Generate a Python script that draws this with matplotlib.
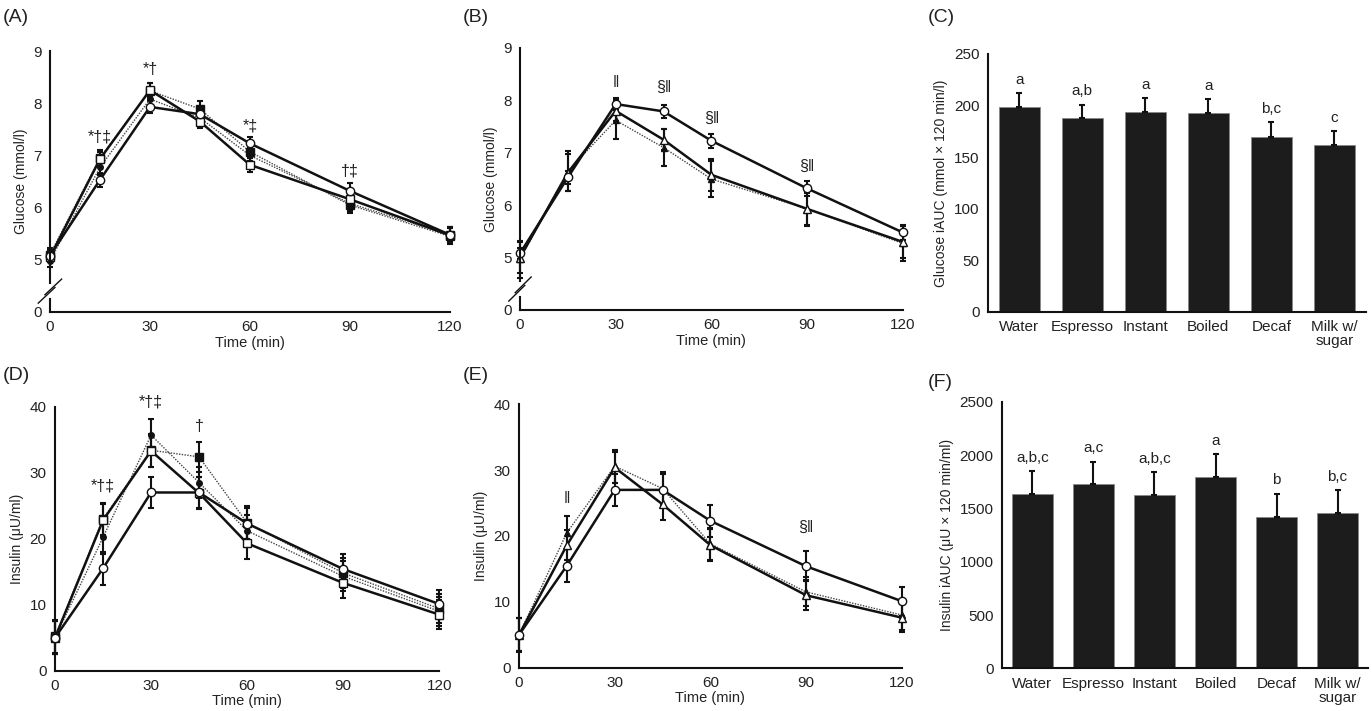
import numpy as np
import matplotlib.pyplot as plt

plt.rcParams['font.family'] = ['Liberation Sans', 'DejaVu Sans']

# time points (min)
times = [0, 15, 30, 45, 60, 90, 120]

# (A) glucose, water vs caffeinated coffees
glu_water = [5.08, 6.53, 7.93, 7.79, 7.23, 6.32, 5.48]
glu_water_err = [0.10, 0.13, 0.12, 0.12, 0.13, 0.15, 0.14]
glu_open_sq = [5.05, 6.93, 8.25, 7.65, 6.82, 6.16, 5.47]
glu_open_sq_err = [0.10, 0.13, 0.13, 0.12, 0.13, 0.13, 0.15]
glu_fill_sq = [5.10, 6.95, 8.24, 7.89, 7.07, 6.05, 5.45]
glu_fill_sq_err = [0.12, 0.15, 0.15, 0.15, 0.17, 0.15, 0.15]
glu_fill_ci = [4.98, 6.77, 8.08, 7.72, 7.00, 6.08, 5.48]
glu_fill_ci_err = [0.12, 0.14, 0.14, 0.14, 0.15, 0.14, 0.14]

# (B) glucose, water vs decaf vs milk w/ sugar
glu_decaf = [5.00, 6.62, 7.80, 7.25, 6.58, 5.93, 5.30]
glu_decaf_err = [0.30, 0.35, 0.20, 0.20, 0.30, 0.30, 0.30]
glu_milk = [4.97, 6.65, 7.62, 7.10, 6.50, 5.93, 5.27]
glu_milk_err = [0.35, 0.38, 0.35, 0.35, 0.35, 0.32, 0.33]

# (D) insulin, water vs caffeinated coffees
ins_water = [5.0, 15.5, 27.0, 27.0, 22.3, 15.4, 10.1]
ins_water_err = [2.5, 2.5, 2.4, 2.4, 2.4, 2.3, 2.2]
ins_open_sq = [5.0, 22.8, 33.3, 26.9, 19.3, 13.3, 8.5]
ins_open_sq_err = [2.5, 2.5, 2.4, 2.4, 2.4, 2.3, 2.2]
ins_fill_sq = [5.2, 23.0, 33.4, 32.4, 22.4, 14.8, 9.4]
ins_fill_sq_err = [2.5, 2.4, 2.5, 2.3, 2.5, 2.3, 2.2]
ins_fill_ci = [5.0, 20.2, 35.7, 28.5, 21.2, 14.3, 9.0]
ins_fill_ci_err = [2.5, 2.5, 2.4, 2.4, 2.4, 2.3, 2.2]

# (E) insulin, water vs decaf vs milk w/ sugar
ins_decaf = [5.0, 18.6, 30.4, 24.8, 18.6, 11.0, 7.6]
ins_decaf_err = [2.5, 2.3, 2.4, 2.4, 2.4, 2.3, 2.2]
ins_milk = [5.0, 20.5, 30.6, 27.2, 18.8, 11.5, 8.0]
ins_milk_err = [2.6, 2.5, 2.5, 2.5, 2.4, 2.2, 2.2]

# (C), (F) iAUC bars
drinks = ['Water', 'Espresso', 'Instant', 'Boiled', 'Decaf', 'Milk w/\nsugar']
glu_auc = [199, 188, 194, 193, 170, 162]
glu_auc_err = [13, 13, 13, 13, 14, 13]
glu_auc_letters = ['a', 'a,b', 'a', 'a', 'b,c', 'c']
ins_auc = [1637, 1728, 1628, 1794, 1422, 1456]
ins_auc_err = [210, 209, 213, 213, 215, 213]
ins_auc_letters = ['a,b,c', 'a,c', 'a,b,c', 'a', 'b', 'b,c']

TXT = '#222222'
SOLID = dict(color='#111111', lw=1.8, ls='-')
DOTTED = dict(color='#444444', lw=1.0, ls=(0, (1, 1)))


def style_axes(ax):
    for s in ['top', 'right']:
        ax.spines[s].set_visible(False)
    for s in ['left', 'bottom']:
        ax.spines[s].set_linewidth(1.5)
        ax.spines[s].set_color('#111111')
    ax.tick_params(length=0, labelsize=11, colors=TXT, pad=6)


def draw_series(ax, y, err, marker, mfc, ms, line):
    eb = ax.errorbar(times, y, yerr=err, fmt='none', ecolor='#111111',
                     elinewidth=1.5, capsize=2.2, capthick=1.5, zorder=2)
    for art in eb.get_children():
        art.set_clip_on(False)
    ax.plot(times, y, marker=marker, markerfacecolor=mfc, markeredgecolor='#111111',
            markeredgewidth=1.0, markersize=ms, zorder=3, clip_on=False, **line)


def line_axes(ax, ylabel):
    style_axes(ax)
    ax.set_xlim(0, 120)
    ax.set_xticks([0, 30, 60, 90, 120])
    ax.set_xlabel('Time (min)', fontsize=10.5, color=TXT, labelpad=1)
    ax.set_ylabel(ylabel, fontsize=10, color=TXT)


def broken_glucose_axis(ax):
    # glucose axes start at 5 with a break down to 0
    ax.set_ylim(4, 9)
    ax.set_yticks([4, 5, 6, 7, 8, 9])
    ax.set_yticklabels(['0', '5', '6', '7', '8', '9'])
    ax.spines['left'].set_visible(False)
    kw = dict(color='#111111', lw=1.5, clip_on=False, zorder=5)
    ax.plot([0, 0], [4.55, 9], **kw)
    ax.plot([0, 0], [4, 4.25], **kw)
    ax.plot([-3.5, 1.5], [4.17, 4.47], color='#111111', lw=1.0, clip_on=False)
    ax.plot([-1.5, 3.5], [4.33, 4.63], color='#111111', lw=1.0, clip_on=False)


def note(ax, x, y, s):
    ax.text(x, y, s, ha='center', va='bottom', fontsize=11.5, color=TXT)


def bar_axes(ax, vals, errs, letters, ylim, yticks, ylabel, gap):
    style_axes(ax)
    x = np.arange(len(drinks))
    ax.bar(x, vals, width=0.66, color='#1c1c1c', edgecolor='#888888', linewidth=0.6, zorder=2)
    ax.errorbar(x, vals, yerr=[np.zeros(len(errs)), errs], fmt='none', ecolor='#111111',
                elinewidth=1.5, capsize=2.2, capthick=1.5, zorder=3)
    for xi, v, e, t in zip(x, vals, errs, letters):
        ax.text(xi, v + e + gap, t, ha='center', va='bottom', fontsize=11, color=TXT)
    ax.set_xlim(-0.5, len(drinks) - 0.5)
    ax.set_ylim(*ylim)
    ax.set_yticks(yticks)
    ax.set_xticks(x)
    ax.set_xticklabels(drinks, fontsize=11, linespacing=1.0)
    ax.set_ylabel(ylabel, fontsize=10, color=TXT)


fig = plt.figure(figsize=(13.72, 7.11), dpi=100)

axA = fig.add_axes([0.0364, 0.5612, 0.2915, 0.367])
axB = fig.add_axes([0.379, 0.564, 0.279, 0.3685])
axC = fig.add_axes([0.720, 0.5612, 0.2755, 0.3629])
axD = fig.add_axes([0.0401, 0.0567, 0.280, 0.3713])
axE = fig.add_axes([0.3783, 0.0609, 0.279, 0.3705])
axF = fig.add_axes([0.7303, 0.060, 0.2668, 0.375])

# (A)
line_axes(axA, 'Glucose (mmol/l)')
broken_glucose_axis(axA)
draw_series(axA, glu_fill_ci, glu_fill_ci_err, 'o', '#111111', 4, DOTTED)
draw_series(axA, glu_fill_sq, glu_fill_sq_err, 's', '#111111', 6, DOTTED)
draw_series(axA, glu_open_sq, glu_open_sq_err, 's', 'white', 6, SOLID)
draw_series(axA, glu_water, glu_water_err, 'o', 'white', 6, SOLID)
note(axA, 15, 7.2, '*†‡')
note(axA, 30, 8.5, '*†')
note(axA, 60, 7.42, '*‡')
note(axA, 90, 6.55, '†‡')

# (B)
line_axes(axB, 'Glucose (mmol/l)')
broken_glucose_axis(axB)
draw_series(axB, glu_milk, glu_milk_err, '^', '#111111', 5, DOTTED)
draw_series(axB, glu_decaf, glu_decaf_err, '^', 'white', 6, SOLID)
draw_series(axB, glu_water, glu_water_err, 'o', 'white', 6, SOLID)
note(axB, 30, 8.2, '‖')
note(axB, 45, 8.1, '§‖')
note(axB, 60, 7.52, '§‖')
note(axB, 90, 6.6, '§‖')

# (C)
bar_axes(axC, glu_auc, glu_auc_err, glu_auc_letters, (0, 250),
         [0, 50, 100, 150, 200, 250], 'Glucose iAUC (mmol × 120 min/l)', 6)

# (D)
line_axes(axD, 'Insulin (μU/ml)')
axD.set_ylim(0, 40)
axD.set_yticks([0, 10, 20, 30, 40])
draw_series(axD, ins_fill_ci, ins_fill_ci_err, 'o', '#111111', 4, DOTTED)
draw_series(axD, ins_fill_sq, ins_fill_sq_err, 's', '#111111', 6, DOTTED)
draw_series(axD, ins_open_sq, ins_open_sq_err, 's', 'white', 6, SOLID)
draw_series(axD, ins_water, ins_water_err, 'o', 'white', 6, SOLID)
note(axD, 15, 26.8, '*†‡')
note(axD, 30, 39.6, '*†‡')
note(axD, 45, 35.8, '†')

# (E)
line_axes(axE, 'Insulin (μU/ml)')
axE.set_ylim(0, 40)
axE.set_yticks([0, 10, 20, 30, 40])
draw_series(axE, ins_milk, ins_milk_err, '^', '#111111', 5, DOTTED)
draw_series(axE, ins_decaf, ins_decaf_err, '^', 'white', 6, SOLID)
draw_series(axE, ins_water, ins_water_err, 'o', 'white', 6, SOLID)
note(axE, 15, 24.6, '‖')
note(axE, 90, 20.2, '§‖')

# (F)
bar_axes(axF, ins_auc, ins_auc_err, ins_auc_letters, (0, 2500),
         [0, 500, 1000, 1500, 2000, 2500], 'Insulin iAUC (μU × 120 min/ml)', 60)

for s, (x, y) in zip('ABCDEF', [(0.002, 0.975), (0.337, 0.975), (0.676, 0.975),
                                (0.002, 0.472), (0.337, 0.472), (0.676, 0.462)]):
    fig.text(x, y, '(%s)' % s, fontsize=14, color=TXT, va='center', ha='left')

fig.savefig('out.png', dpi=100)
